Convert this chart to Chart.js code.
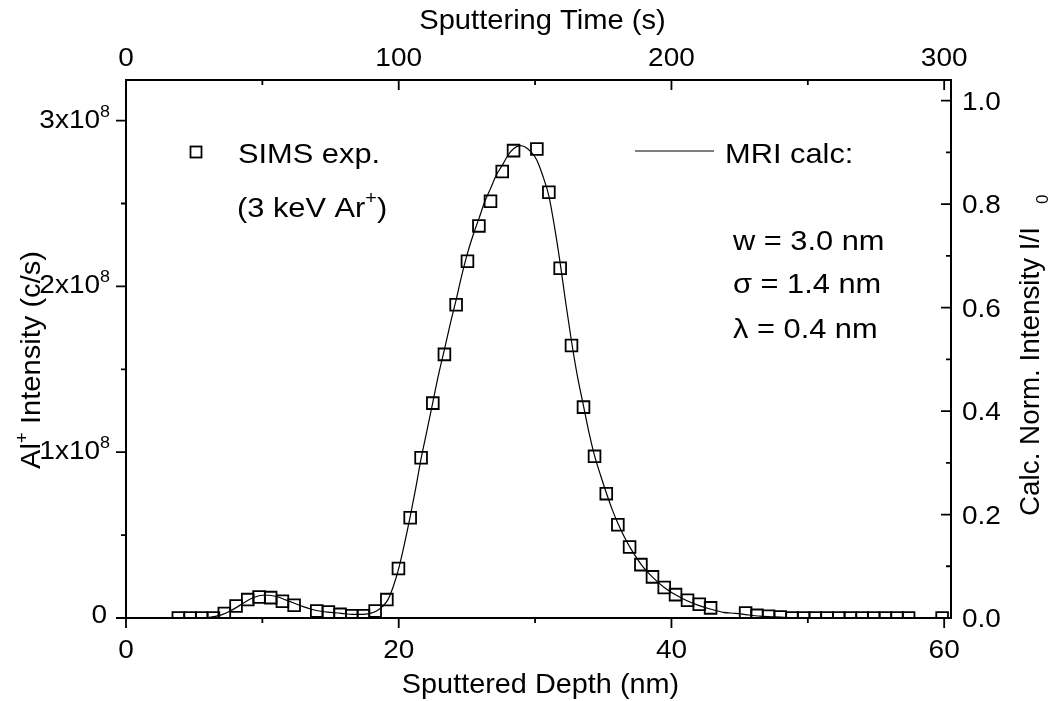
<!DOCTYPE html>
<html>
<head>
<meta charset="utf-8">
<title>Al+ depth profile: SIMS vs MRI calculation</title>
<script src="https://cdn.jsdelivr.net/npm/chart.js@4.4.1/dist/chart.umd.min.js"></script>
<style>
  html, body { margin: 0; padding: 0; background: #fff; }
  #wrap { position: relative; width: 1052px; height: 701px; }
</style>
</head>
<body>
<div id="wrap"><canvas id="profileChart"></canvas></div>
<script>
// SIMS measurement: sputtered depth (nm) and Al+ intensity (c/s)
const simsDepth = [3.84, 4.70, 5.55, 6.41, 7.21, 8.07, 8.93, 9.76, 10.61, 11.47, 12.33,
    13.99, 14.84, 15.70, 16.56, 17.41, 18.27, 19.13, 19.98, 20.84, 21.64, 22.50, 23.35,
    24.21, 25.04, 25.88, 26.73, 27.59, 28.42, 30.13, 31.01, 31.84, 32.67, 33.55, 34.36,
    35.22, 36.07, 36.93, 37.76, 38.61, 39.47, 40.30, 41.18, 42.04, 42.87, 45.44, 46.27,
    47.12, 47.98, 48.84, 49.69, 50.55, 51.41, 52.27, 53.12, 53.98, 54.83, 55.69, 56.54,
    57.39, 59.85];
const simsCounts = [0, 0, 0, 0, 2.7e6, 7.2e6, 1.11e7, 1.27e7, 1.23e7, 1.01e7, 7.7e6,
    4.2e6, 3.6e6, 2.2e6, 1.4e6, 1.4e6, 4.2e6, 1.11e7, 2.98e7, 6.05e7, 9.67e7, 1.296e8, 1.590e8,
    1.889e8, 2.152e8, 2.365e8, 2.514e8, 2.693e8, 2.819e8, 2.829e8, 2.568e8, 2.110e8, 1.644e8, 1.272e8, 9.75e7,
    7.50e7, 5.63e7, 4.28e7, 3.22e7, 2.48e7, 1.84e7, 1.41e7, 1.07e7, 8.3e6, 6.1e6, 3.0e6, 1.6e6,
    1.0e6, 6e5, 0, 0, 0, 0, 0, 0, 0, 0, 0, 0,
    0, 0];

// MRI calculation: depth (nm) and normalised intensity I/I0
const mriDepth = [5.0, 6.0, 7.0, 7.6, 8.2, 8.8, 9.4, 10.0, 10.5, 11.1, 11.7, 12.3, 13.0, 13.6,
    14.3, 15.0, 15.8, 16.6, 17.3, 17.9, 18.4, 18.8, 19.2, 19.6, 20.0, 20.4, 20.84, 21.24,
    21.64, 22.07, 22.5, 22.9, 23.35, 23.8, 24.21, 24.6, 25.04, 25.45, 25.88, 26.3, 26.73,
    27.15, 27.59, 28.0, 28.42, 28.9, 29.3, 29.7, 30.13, 30.55, 31.0, 31.4, 31.84, 32.25,
    32.67, 33.1, 33.55, 33.95, 34.36, 34.8, 35.22, 35.65, 36.07, 36.5, 36.93, 37.35, 37.76,
    38.2, 38.61, 39.47, 40.3, 41.18, 42.04, 42.9, 43.8, 44.7, 45.6, 46.5, 47.5, 48.5, 50.0,
    52.0, 56.0];
const mriNorm = [0, 0.001, 0.006, 0.013, 0.022, 0.032, 0.040, 0.044, 0.044, 0.041, 0.035, 0.029, 0.022, 0.017,
    0.013, 0.011, 0.009, 0.007, 0.007, 0.009, 0.014, 0.022, 0.035, 0.061, 0.096, 0.141, 0.196, 0.250,
    0.308, 0.362, 0.417, 0.468, 0.519, 0.571, 0.615, 0.660, 0.705, 0.740, 0.772, 0.804, 0.830,
    0.856, 0.875, 0.894, 0.907, 0.913, 0.910, 0.901, 0.885, 0.856, 0.817, 0.760, 0.686, 0.609,
    0.535, 0.468, 0.410, 0.359, 0.314, 0.276, 0.242, 0.210, 0.183, 0.159, 0.138, 0.120, 0.104,
    0.090, 0.079, 0.059, 0.045, 0.033, 0.024, 0.017, 0.011, 0.009, 0.006, 0.0035, 0.002, 0.001, 0.0003,
    0, 0];

// axis ticks
const depthTicks = [0, 20, 40, 60];
const depthMinor = [10, 30, 50];
const timeTicks = [0, 100, 200, 300];
const timeMinor = [50, 150, 250];
const countTicks = [0, 1e8, 2e8, 3e8];
const countMinor = [0.5e8, 1.5e8, 2.5e8];
const countLabels = [['0', ''], ['1x10', '8'], ['2x10', '8'], ['3x10', '8']];
const normTicks = [0, 0.2, 0.4, 0.6, 0.8, 1.0];
const normMinor = [0.1, 0.3, 0.5, 0.7, 0.9];

const FONT = '"Liberation Sans", Arial, sans-serif';

// draw a run of text pieces (size / vertical shift each), stretched along the text
function rich(ctx, parts, x, y, opt = {}) {
    ctx.save();
    ctx.translate(x, y);
    if (opt.rot) ctx.rotate(opt.rot);
    ctx.scale(opt.sx || 1, 1);
    ctx.fillStyle = '#000';
    ctx.textBaseline = 'alphabetic';
    ctx.textAlign = 'left';
    let total = 0;
    parts.forEach(p => {
        ctx.font = p.size + 'px ' + FONT;
        p.w = ctx.measureText(p.t).width + (p.gap || 0);
        total += p.w;
    });
    let cx = opt.align === 'right' ? -total : opt.align === 'center' ? -total / 2 : 0;
    parts.forEach(p => {
        ctx.font = p.size + 'px ' + FONT;
        ctx.fillText(p.t, cx + (p.gap || 0), p.dy || 0);
        cx += p.w;
    });
    ctx.restore();
}

function txt(ctx, s, x, y, size, opt = {}) {
    rich(ctx, [{ t: s, size: size }], x, y, opt);
}

const axisDecor = {
    id: 'axisDecor',
    afterDraw(chart) {
        const ctx = chart.ctx;
        const a = chart.chartArea;
        const sx = chart.scales.x, sx2 = chart.scales.x2, sy = chart.scales.y, sy2 = chart.scales.y2;

        ctx.save();
        ctx.strokeStyle = '#000';
        ctx.lineWidth = 1.8;
        ctx.beginPath();
        // bottom: outward
        depthTicks.forEach(v => { const p = sx.getPixelForValue(v); ctx.moveTo(p, a.bottom); ctx.lineTo(p, a.bottom + 10); });
        depthMinor.forEach(v => { const p = sx.getPixelForValue(v); ctx.moveTo(p, a.bottom); ctx.lineTo(p, a.bottom + 5); });
        // top: inward
        timeTicks.forEach(v => { const p = sx2.getPixelForValue(v); ctx.moveTo(p, a.top); ctx.lineTo(p, a.top + 10); });
        timeMinor.forEach(v => { const p = sx2.getPixelForValue(v); ctx.moveTo(p, a.top); ctx.lineTo(p, a.top + 5); });
        // left: outward
        countTicks.forEach(v => { const p = sy.getPixelForValue(v); ctx.moveTo(a.left, p); ctx.lineTo(a.left - 10, p); });
        countMinor.forEach(v => { const p = sy.getPixelForValue(v); ctx.moveTo(a.left, p); ctx.lineTo(a.left - 5, p); });
        // right: inward
        normTicks.forEach(v => { const p = sy2.getPixelForValue(v); ctx.moveTo(a.right, p); ctx.lineTo(a.right - 10, p); });
        normMinor.forEach(v => { const p = sy2.getPixelForValue(v); ctx.moveTo(a.right, p); ctx.lineTo(a.right - 5, p); });
        ctx.stroke();
        ctx.restore();

        const tickSize = 25, tickSx = 1.12;
        depthTicks.forEach(v => txt(ctx, String(v), sx.getPixelForValue(v), a.bottom + 40, tickSize, { align: 'center', sx: tickSx }));
        timeTicks.forEach(v => txt(ctx, String(v), sx2.getPixelForValue(v), a.top - 14, tickSize, { align: 'center', sx: tickSx }));
        normTicks.forEach(v => txt(ctx, v.toFixed(1), a.right + 11, sy2.getPixelForValue(v) + 9, tickSize, { sx: tickSx }));
        countTicks.forEach((v, i) => {
            const [main, sup] = countLabels[i];
            rich(ctx, [{ t: main, size: tickSize }, { t: sup, size: 16, dy: -11 }],
                sup ? 110 : 107, sy.getPixelForValue(v) + (sup ? 7 : 5), { align: 'right', sx: tickSx });
        });

        // axis titles
        const tSize = 28;
        txt(ctx, 'Sputtered Depth (nm)', (a.left + a.right) / 2 + 2, 693, tSize, { align: 'center', sx: 1.03 });
        txt(ctx, 'Sputtering Time (s)', (a.left + a.right) / 2 + 4, 29, tSize, { align: 'center', sx: 1.04 });
        rich(ctx, [{ t: 'Al', size: tSize }, { t: '+', size: 18, dy: -12 }, { t: ' Intensity (c/s)', size: tSize }],
            40, 360, { align: 'center', rot: -Math.PI / 2, sx: 1.04 });
        rich(ctx, [{ t: 'Calc. Norm. Intensity I/I', size: 27 }], 1039, 227, { align: 'right', rot: -Math.PI / 2, sx: 1.03 });
        txt(ctx, '0', 1048, 204, 17, { rot: -Math.PI / 2 });

        // legend and model parameters
        ctx.save();
        ctx.strokeStyle = '#000';
        ctx.lineWidth = 1.8;
        ctx.strokeRect(196 - 5.5, 152 - 5.5, 11, 11);
        ctx.lineWidth = 1.2;
        ctx.beginPath();
        ctx.moveTo(635, 151);
        ctx.lineTo(714, 151);
        ctx.stroke();
        ctx.restore();
        const lSize = 28, lSx = 1.1;
        txt(ctx, 'SIMS exp.', 238, 163, lSize, { sx: lSx });
        rich(ctx, [{ t: '(3 keV Ar', size: lSize }, { t: '+', size: 18, dy: -13 }, { t: ')', size: lSize }], 237, 217, { sx: lSx });
        txt(ctx, 'MRI calc:', 725, 163, lSize, { sx: lSx });
        txt(ctx, 'w = 3.0 nm', 733, 250, lSize, { sx: lSx });
        txt(ctx, '\u03c3 = 1.4 nm', 733, 293, lSize, { sx: lSx });
        txt(ctx, '\u03bb = 0.4 nm', 733, 338, lSize, { sx: lSx });
    }
};

const hidden = { ticks: { display: false }, grid: { display: false }, border: { display: true, color: '#000', width: 2 } };

new Chart(document.getElementById('profileChart'), {
    type: 'scatter',
    data: {
        datasets: [
            {
                label: 'SIMS exp. (3 keV Ar+)',
                data: simsDepth.map((d, i) => ({ x: d, y: simsCounts[i] })),
                xAxisID: 'x',
                yAxisID: 'y',
                pointStyle: 'rect',
                pointRadius: 8.3,
                borderWidth: 1.8,
                borderColor: '#000',
                backgroundColor: 'rgba(0,0,0,0)',
                showLine: false
            },
            {
                label: 'MRI calc',
                data: mriDepth.map((d, i) => ({ x: d, y: mriNorm[i] })),
                xAxisID: 'x',
                yAxisID: 'y2',
                showLine: true,
                pointRadius: 0,
                borderColor: '#000',
                borderWidth: 1.2,
                fill: false,
                cubicInterpolationMode: 'monotone'
            }
        ]
    },
    options: {
        responsive: true,
        maintainAspectRatio: false,
        animation: false,
        layout: { padding: 0 },
        plugins: { legend: { display: false }, tooltip: { enabled: false } },
        scales: {
            x: {
                type: 'linear', position: 'bottom', min: 0, max: 60.5, ...hidden,
                afterBuildTicks: s => { s.ticks = depthTicks.map(v => ({ value: v })); },
                afterFit: s => { s.height = 83; }
            },
            x2: {
                type: 'linear', position: 'top', min: 0, max: 302.5, ...hidden,
                afterBuildTicks: s => { s.ticks = timeTicks.map(v => ({ value: v })); },
                afterFit: s => { s.height = 80; }
            },
            y: {
                type: 'linear', position: 'left', min: 0, max: 3.245e8, ...hidden,
                afterBuildTicks: s => { s.ticks = countTicks.map(v => ({ value: v })); },
                afterFit: s => { s.width = 126; }
            },
            y2: {
                type: 'linear', position: 'right', min: 0, max: 1.04, ...hidden,
                afterBuildTicks: s => { s.ticks = normTicks.map(v => ({ value: v })); },
                afterFit: s => { s.width = 101; }
            }
        }
    },
    plugins: [axisDecor]
});
</script>
</body>
</html>
